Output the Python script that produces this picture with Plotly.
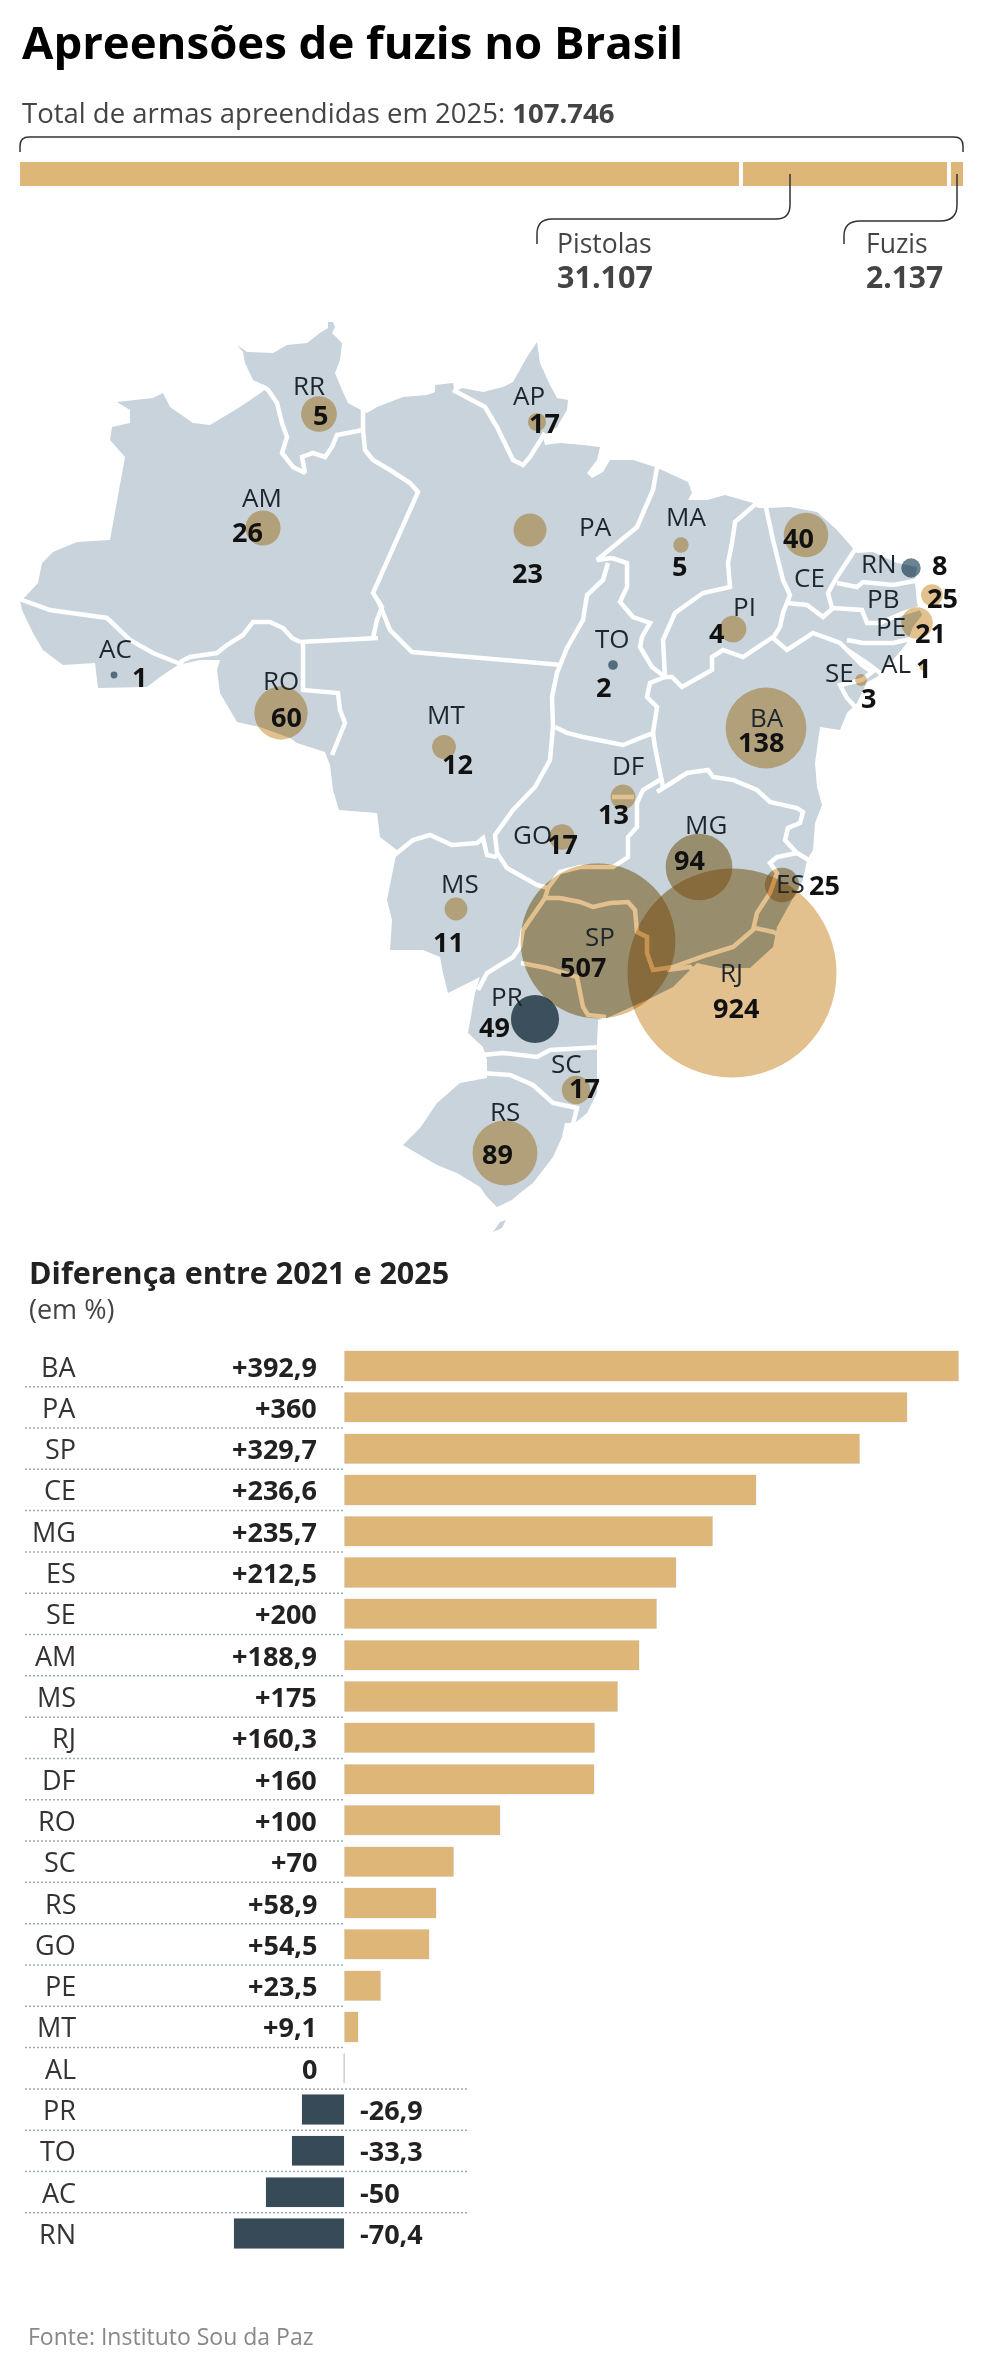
#!/usr/bin/env python3
"""Apreensoes de fuzis no Brasil: stacked total, bubble map and % change bars."""

import plotly.graph_objects as go

PAGE_W = 984
PAGE_H = 2355

TAN = '#DDB678'
DARK = '#364B57'
MAP_FILL = '#C8D3DB'
FONT = 'Open Sans'

# top bar, segment lengths as drawn (% of the bar)
total_segments = ['Outras', 'Pistolas', 'Fuzis']
total_shares = [76.3, 22.0, 1.7]

# map values per state
states = ['RR', 'AP', 'AM', 'PA', 'MA', 'CE', 'RN', 'PB', 'PE', 'AL', 'SE', 'PI', 'TO', 'AC',
          'RO', 'MT', 'BA', 'DF', 'GO', 'MG', 'ES', 'MS', 'SP', 'RJ', 'PR', 'SC', 'RS']
seizures = [5, 17, 26, 23, 5, 40, 8, 25, 21, 1, 3, 4, 2, 1,
            60, 12, 138, 13, 17, 94, 25, 11, 507, 924, 49, 17, 89]
# bubble areas as drawn, a few circles do not follow their label
bubble_areas = [27, 7, 26, 23, 5, 42, 8, 10, 21, 1, 3, 15, 2, 1,
                60, 12, 138, 13, 14, 94, 25, 11, 507, 924, 49, 17, 89]
falling = ['RN', 'TO', 'AC', 'PR']
strong = ['MG', 'ES', 'SP', 'RJ']

# where things sit on the map, in page pixels
bubble_x = [319, 537, 263, 530, 681, 806, 911, 932, 917, 923, 861, 733, 613, 114,
            281, 444, 766, 623, 562, 699, 782, 456, 598, 732, 535, 576, 505]
bubble_y = [414, 422, 528, 530, 545, 535, 568, 595, 623, 667, 680, 629, 665, 675,
            713, 747, 728, 797, 837, 867, 885, 909, 941, 973, 1019, 1090, 1153]
name_x = [309, 529, 262, 595, 686, 809, 879, 883, 891, 896, 839, 744, 612, 115,
          281, 446, 767, 628, 532, 706, 790, 460, 600, 731, 507, 566, 505]
name_y = [385, 395, 497, 526, 516, 577, 563, 598, 626, 663, 672, 606, 638, 648,
          680, 714, 717, 765, 834, 824, 883, 883, 936, 972, 996, 1063, 1111]
value_x = [320, 544, 247, 527, 679, 798, 939, 942, 930, 923, 868, 716, 603, 139,
           286, 457, 761, 613, 562, 689, 824, 448, 583, 736, 494, 584, 497]
value_y = [414, 422, 531, 572, 565, 537, 564, 597, 632, 667, 697, 632, 686, 676,
           716, 763, 741, 813, 843, 859, 884, 941, 966, 1007, 1026, 1087, 1153]

# bar chart
bar_states = ['BA', 'PA', 'SP', 'CE', 'MG', 'ES', 'SE', 'AM', 'MS', 'RJ', 'DF',
              'RO', 'SC', 'RS', 'GO', 'PE', 'MT', 'AL', 'PR', 'TO', 'AC', 'RN']
# CE is drawn longer than its printed label
bar_values = [392.9, 360, 329.7, 263.6, 235.7, 212.5, 200, 188.9, 175, 160.3, 160,
              100, 70, 58.9, 54.5, 23.5, 9.1, 0, -26.9, -33.3, -50, -70.4]
bar_labels = ['+392,9', '+360', '+329,7', '+236,6', '+235,7', '+212,5', '+200', '+188,9',
              '+175', '+160,3', '+160', '+100', '+70', '+58,9', '+54,5', '+23,5', '+9,1',
              '0', '-26,9', '-33,3', '-50', '-70,4']

# country outline, page pixels
brazil_outline = [
    (333, 322), (335, 327), (332, 333), (342, 343), (340, 360), (335, 373), (342, 390), (348, 403),
    (361, 410), (367, 413), (377, 407), (403, 397), (427, 395), (435, 392), (435, 385), (453, 383),
    (455, 392), (462, 388), (483, 392), (503, 387), (513, 382), (527, 357), (537, 342), (540, 363),
    (550, 385), (557, 398), (568, 400), (567, 410), (557, 427), (543, 437), (545, 445), (560, 443),
    (583, 445), (600, 447), (597, 460), (587, 473), (592, 478), (603, 472), (610, 460), (633, 460),
    (655, 467), (662, 470), (688, 482), (692, 493), (688, 500), (707, 500), (725, 495), (753, 503),
    (758, 508), (767, 508), (790, 507), (817, 512), (837, 530), (853, 548), (857, 553), (873, 552),
    (897, 563), (917, 567), (915, 583), (917, 603), (922, 615), (913, 627), (907, 643), (893, 660),
    (877, 677), (867, 682), (857, 703), (847, 713), (840, 730), (820, 727), (815, 763), (817, 787),
    (822, 805), (815, 823), (813, 850), (807, 860), (803, 880), (788, 907), (777, 927), (773, 947),
    (750, 968), (720, 968), (697, 963), (673, 987), (647, 1000), (607, 1018), (598, 1020), (597, 1043),
    (597, 1050), (597, 1093), (587, 1113), (575, 1123), (565, 1123), (562, 1137), (553, 1157),
    (533, 1183), (520, 1193), (512, 1200), (497, 1207), (487, 1197), (480, 1187), (457, 1173),
    (437, 1165), (420, 1155), (403, 1145), (420, 1128), (437, 1103), (460, 1083), (487, 1078),
    (487, 1060), (483, 1047), (468, 1033), (475, 993), (480, 977), (448, 993), (443, 973), (440, 957),
    (423, 950), (390, 950), (392, 920), (387, 900), (395, 860), (397, 850), (380, 837), (377, 813),
    (339, 810), (333, 790), (330, 765), (325, 752), (297, 743), (290, 738), (260, 727), (237, 722),
    (220, 693), (217, 670), (220, 660), (200, 660), (178, 665), (160, 677), (147, 687), (98, 688),
    (95, 663), (63, 665), (43, 650), (33, 633), (22, 610), (20, 600), (25, 597), (38, 583), (42, 563),
    (53, 552), (77, 542), (110, 540), (125, 457), (110, 440), (112, 427), (130, 423), (130, 410),
    (117, 402), (153, 398), (163, 393), (170, 407), (193, 423), (210, 425), (240, 407), (262, 392),
    (268, 387), (253, 380), (245, 363), (243, 352), (237, 345), (247, 352), (273, 353), (287, 345),
    (307, 343), (320, 333), (328, 328), (328, 322),
]
south_island = [(493, 1232), (500, 1222), (506, 1220), (502, 1228)]

# internal state borders, page pixels
state_borders = [
    # AM / RR, RR / PA
    [(262, 386), (268, 390), (277, 403), (282, 423), (287, 437), (282, 453), (293, 467), (305, 473),
     (302, 457), (313, 453), (325, 457), (332, 447), (337, 435), (363, 430)],
    [(363, 405), (363, 430), (365, 450), (373, 460), (390, 470), (410, 483), (418, 492), (373, 593),
     (382, 607), (377, 620), (373, 638)],
    [(300, 642), (378, 638)],
    # PA / MT
    [(378, 600), (390, 630), (412, 652), (562, 665)],
    # AC / AM
    [(14, 597), (50, 610), (107, 618), (130, 640), (153, 653), (183, 665)],
    # AM / RO
    [(180, 662), (190, 657), (217, 653), (227, 645), (243, 635), (253, 622), (270, 622), (283, 628),
     (292, 638), (300, 642)],
    # RO / MT
    [(303, 643), (303, 690), (338, 693), (340, 710), (345, 723), (332, 755)],
    # AP / PA
    [(453, 390), (485, 407), (497, 427), (513, 460), (523, 465), (530, 457), (545, 433)],
    # PA / MA
    [(658, 462), (653, 490), (637, 527), (617, 543), (597, 560), (612, 558)],
    # PA / TO and MT / GO
    [(608, 563), (603, 580), (587, 595), (583, 620), (567, 648), (557, 673), (552, 697), (553, 727),
     (550, 760), (535, 787), (513, 810), (495, 835), (497, 853), (507, 868), (537, 885), (548, 888)],
    # TO / MA
    [(612, 558), (627, 563), (627, 587), (620, 602), (633, 617), (650, 623), (642, 637), (640, 647),
     (652, 667), (665, 677)],
    # MA / PI
    [(758, 502), (735, 522), (732, 543), (728, 563), (730, 587), (703, 593), (675, 613), (663, 640),
     (665, 677)],
    # PI / BA
    [(663, 677), (672, 677), (682, 687), (695, 680), (712, 670), (712, 657), (723, 650), (743, 657),
     (763, 643), (773, 637)],
    # PI / CE
    [(765, 503), (773, 540), (783, 580), (790, 595), (783, 613), (780, 627), (773, 638)],
    # CE / PE, CE / RN, RN / PB, PB / PE
    [(787, 603), (807, 605), (823, 617), (833, 608), (862, 610), (867, 623), (880, 623), (903, 613),
     (920, 608)],
    [(858, 545), (837, 577), (828, 593), (832, 608)],
    [(837, 583), (857, 587), (863, 582), (873, 583), (893, 585), (920, 580)],
    # PE / AL
    [(847, 640), (863, 643), (893, 643), (907, 640), (915, 638)],
    # PE / BA, AL / SE, SE / BA
    [(773, 638), (787, 650), (813, 633), (840, 643), (847, 650), (867, 663), (884, 676)],
    [(847, 650), (862, 665), (872, 672), (862, 680), (840, 685), (847, 698), (858, 710)],
    # TO / BA, GO / BA
    [(665, 677), (650, 683), (647, 697), (657, 707), (653, 733), (655, 747), (663, 787)],
    # BA / MG
    [(657, 792), (687, 773), (708, 770), (713, 777), (733, 780), (757, 790), (770, 802), (797, 808),
     (803, 812), (800, 823), (788, 828), (785, 840), (797, 853), (812, 862)],
    # MG / ES, MG / RJ, MG / SP
    [(797, 853), (777, 857), (770, 863), (777, 873), (770, 893), (757, 913), (753, 930), (733, 947),
     (707, 955), (673, 967), (653, 970), (647, 953), (647, 937), (637, 932), (635, 910), (628, 902),
     (610, 903), (593, 907), (580, 902), (560, 898), (545, 898)],
    # ES / RJ, SP / RJ
    [(755, 928), (773, 932), (780, 935)],
    [(667, 970), (690, 967), (697, 975)],
    # GO / MG
    [(663, 778), (643, 790), (637, 803), (637, 827), (628, 837), (628, 857), (613, 867), (580, 867),
     (560, 872), (548, 888), (545, 898)],
    # DF
    [(612, 797), (634, 797)],
    # MT / MS
    [(392, 857), (413, 840), (430, 835), (452, 845), (477, 843), (483, 838), (487, 855), (497, 857)],
    # GO / TO
    [(555, 727), (567, 733), (583, 737), (600, 740), (623, 745), (648, 735), (655, 733)],
    # MS / SP, MS / PR
    [(545, 898), (537, 910), (523, 930), (520, 947), (513, 957), (487, 973), (478, 990)],
    # SP / PR
    [(521, 963), (547, 968), (577, 977), (583, 1007), (588, 1015), (606, 1017)],
    # PR / SC
    [(482, 1055), (503, 1053), (537, 1057), (550, 1050), (602, 1047)],
    # SC / RS
    [(482, 1073), (510, 1075), (533, 1085), (553, 1103), (577, 1108), (573, 1124)],
]


def unzip_paths(paths):
    """Join point lists into x/y lists split by None"""
    xs, ys = [], []
    for path in paths:
        xs += [p[0] for p in path] + [None]
        ys += [p[1] for p in path] + [None]
    return xs, ys


def text(x, y, label, size, color='#1d262c', bold=False, anchor='center', xref='x', yref='y'):
    return dict(
        x=x, y=y, xref=xref, yref=yref, text=f'<b>{label}</b>' if bold else label,
        showarrow=False, xanchor=anchor, yanchor='middle', align=anchor,
        font=dict(family=FONT, size=size, color=color),
    )


fig = go.Figure()

# white sheet so the blend modes have something to blend with outside the land
fig.add_trace(go.Scatter(x=[0, PAGE_W, PAGE_W, 0], y=[250, 250, 1260, 1260], mode='lines', fill='toself',
                         fillcolor='white', line=dict(width=0), hoverinfo='skip'))

# map
land_x, land_y = unzip_paths([brazil_outline, south_island])
fig.add_trace(go.Scatter(x=land_x, y=land_y, mode='lines', fill='toself', fillcolor=MAP_FILL,
                         line=dict(width=0), hoverinfo='skip'))
border_x, border_y = unzip_paths(state_borders)
fig.add_trace(go.Scatter(x=border_x, y=border_y, mode='lines',
                         line=dict(color='white', width=4.5), hoverinfo='skip'))

# circles: blend modes are set by the style block passed to write_html
BUBBLE_REF = 2 * 924 / 209 ** 2
strong_idx = [states.index(s) for s in strong]
fig.add_trace(go.Scatter(
    x=[bubble_x[i] for i in strong_idx], y=[bubble_y[i] for i in strong_idx], mode='markers', uid='burn',
    marker=dict(size=[bubble_areas[i] for i in strong_idx], sizemode='area', sizeref=BUBBLE_REF,
                color='#A6A699', line=dict(width=0), opacity=1),
    hoverinfo='skip',
))
bubble_colors = []
for s in states:
    if s == 'PR':
        bubble_colors.append('#4B5F6C')
    elif s in falling:
        bubble_colors.append('#6A8494')
    else:
        bubble_colors.append('#E3C18E')
fig.add_trace(go.Scatter(
    x=bubble_x, y=bubble_y, mode='markers', uid='bubbles',
    marker=dict(size=bubble_areas, sizemode='area', sizeref=BUBBLE_REF, color=bubble_colors,
                line=dict(width=0), opacity=1),
    hovertext=states, hoverinfo='text',
))

# total bar
for name, share in zip(total_segments, total_shares):
    fig.add_trace(go.Bar(x=[share], y=['Total'], name=name, orientation='h', width=1,
                         marker=dict(color=TAN, line=dict(color='white', width=4)),
                         xaxis='x3', yaxis='y3', hoverinfo='skip'))

# change bars
fig.add_trace(go.Bar(
    x=bar_values, y=bar_states, orientation='h', width=0.73,
    marker=dict(color=[TAN if v >= 0 else DARK for v in bar_values]),
    xaxis='x2', yaxis='y2', hoverinfo='skip',
))

annotations = [
    text(20, 41, 'Apreensões de fuzis no Brasil', 45.5, '#000000', True, 'left'),
    text(20, 112, 'Total de armas apreendidas em 2025: <b>107.746</b>', 27.5, '#444444', False, 'left'),
    text(555, 243, 'Pistolas', 26.5, '#444444', False, 'left'),
    text(555, 276, '31.107', 30.5, '#444444', True, 'left'),
    text(864, 243, 'Fuzis', 26.5, '#444444', False, 'left'),
    text(864, 276, '2.137', 30, '#444444', True, 'left'),
    text(27, 1272, 'Diferença entre 2021 e 2025', 30.5, '#222222', True, 'left'),
    text(27, 1308, '(em %)', 27, '#444444', False, 'left'),
    text(26, 2336, 'Fonte: Instituto Sou da Paz', 23, '#888888', False, 'left'),
]
for s, v, nx, ny, vx, vy in zip(states, seizures, name_x, name_y, value_x, value_y):
    annotations.append(text(nx, ny, s, 26))
    annotations.append(text(vx, vy, v, 27, '#111111', True))
for s, v, lab in zip(bar_states, bar_values, bar_labels):
    annotations.append(text(-170, s, s, 27, '#333333', False, 'right', 'x2', 'y2'))
    if v < 0:
        annotations.append(text(9, s, lab, 27, '#222222', True, 'left', 'x2', 'y2'))
    else:
        annotations.append(text(-16, s, lab, 27, '#222222', True, 'right', 'x2', 'y2'))

shapes = [
    # bracket over the total bar
    dict(type='path', path='M20,152 V146 Q20,137 29,137 H954 Q963,137 963,146 V152',
         line=dict(color='#333333', width=1.5), xref='x', yref='y', layer='above'),
    # leaders to pistolas and fuzis
    dict(type='path', path='M790,174 V205 Q790,219 776,219 H552 Q537,219 537,234 V244',
         line=dict(color='#333333', width=1.5), xref='x', yref='y', layer='above'),
    dict(type='path', path='M957,174 V205 Q957,221 940,221 H860 Q844,221 844,236 V244',
         line=dict(color='#333333', width=1.5), xref='x', yref='y', layer='above'),
    # zero mark on the AL row
    dict(type='line', x0=0, x1=0, y0=17 - 0.36, y1=17 + 0.36, xref='x2', yref='y2',
         line=dict(color='#BBBBBB', width=1)),
]
# dotted rules between rows
for i in range(len(bar_states) - 1):
    x_end = 80 if bar_values[i + 1] < 0 else 0
    shapes.append(dict(type='line', x0=-204, x1=x_end, y0=i + 0.5, y1=i + 0.5, xref='x2', yref='y2',
                       line=dict(color='#9AA9B3', width=1.5, dash='2px,2px')))


def page_frac(px):
    return (PAGE_H - px) / PAGE_H


hidden = dict(visible=False, fixedrange=True)
fig.update_layout(
    width=PAGE_W,
    height=PAGE_H,
    margin=dict(l=0, r=0, t=0, b=0),
    paper_bgcolor='white',
    plot_bgcolor='rgba(0,0,0,0)',
    showlegend=False,
    barmode='stack',
    font=dict(family=FONT),
    xaxis=dict(range=[0, PAGE_W], domain=[0, 1], **hidden),
    yaxis=dict(range=[PAGE_H, 0], domain=[0, 1], **hidden),
    xaxis2=dict(range=[-220, 409.2], domain=[0, 1], anchor='y2', **hidden),
    yaxis2=dict(range=[21.5, -0.5], domain=[page_frac(2254.15), page_frac(1345.35)], anchor='x2',
                type='category', categoryorder='array', categoryarray=bar_states, **hidden),
    xaxis3=dict(range=[0, 100], domain=[18 / PAGE_W, 965 / PAGE_W], anchor='y3', **hidden),
    yaxis3=dict(range=[-0.5, 0.5], domain=[page_frac(188), page_frac(160)], anchor='x3', **hidden),
    annotations=annotations,
    shapes=shapes,
)

blend_css = (
    "var s=document.createElement('style');"
    "s.textContent='body{margin:0}.traceburn{mix-blend-mode:color-burn}"
    ".tracebubbles .points path{mix-blend-mode:multiply}';"
    "document.head.appendChild(s);"
)
fig.write_html("out.html", post_script=blend_css, config=dict(displayModeBar=False))
